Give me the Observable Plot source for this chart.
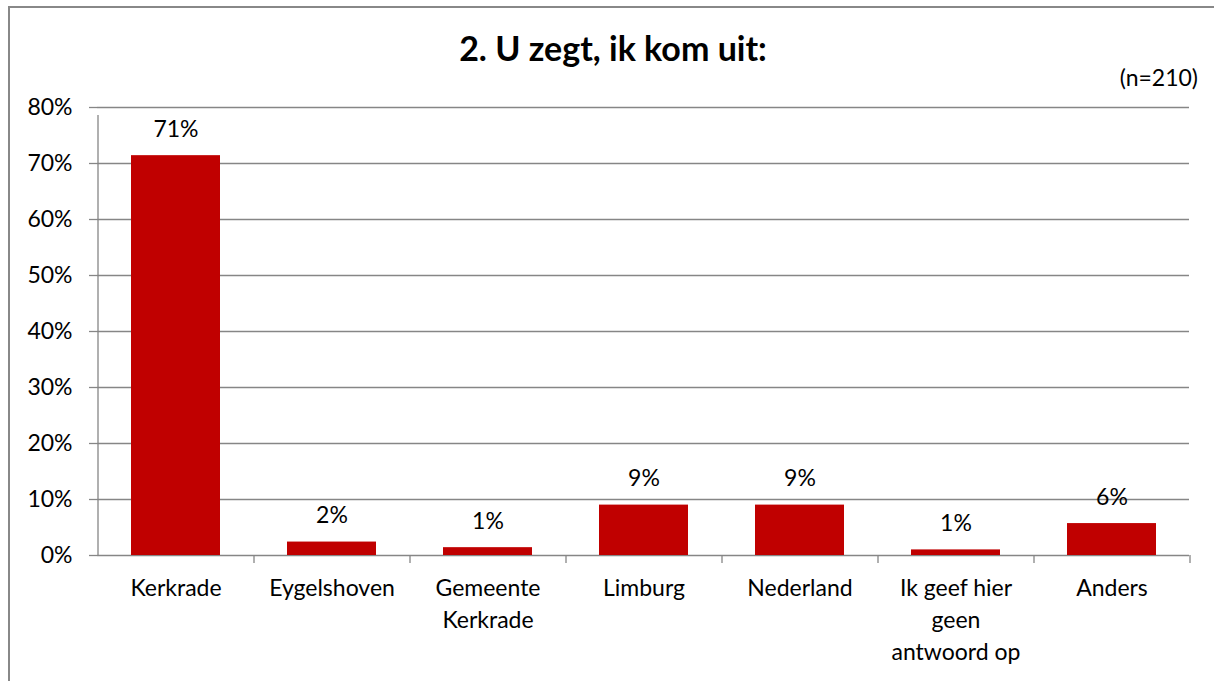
<!DOCTYPE html>
<html>
<head>
<meta charset="utf-8">
<script src="https://cdn.jsdelivr.net/npm/d3@7"></script>
<script src="https://cdn.jsdelivr.net/npm/@observablehq/plot@0.6"></script>
<style>
  html, body { margin: 0; padding: 0; background: #fff; width: 1214px; height: 681px; overflow: hidden; }
  #wrap { position: relative; width: 1214px; height: 681px; overflow: hidden; font-family: Lato, "Open Sans", sans-serif;
          background:
            linear-gradient(#888, #888) 8px 6px / 1206px 2px no-repeat,
            linear-gradient(#888, #888) 8px 6px / 2px 675px no-repeat,
            #fff; }
  #title { position: absolute; left: 13px; width: 1200px; top: 31px; text-align: center; font-weight: 700; font-size: 34px; line-height: 34px; color: #000; white-space: nowrap; }
  #note { position: absolute; right: 16px; top: 66px; font-size: 23px; line-height: 23px; color: #000; white-space: nowrap; }
  #chart { position: absolute; left: 0; top: 0; }
</style>
</head>
<body>
<div id="wrap">
  <div id="chart"></div>
  <div id="title">2. U zegt, ik kom uit:</div>
  <div id="note">(n=210)</div>
</div>
<script>
const categories = ["Kerkrade", "Eygelshoven", "Gemeente Kerkrade", "Limburg", "Nederland", "Ik geef hier geen antwoord op", "Anders"];
const tickLabels = ["Kerkrade", "Eygelshoven", "Gemeente\nKerkrade", "Limburg", "Nederland", "Ik geef hier\ngeen\nantwoord op", "Anders"];
const values = [0.714, 0.024, 0.014, 0.090, 0.090, 0.010, 0.057];
const valueLabels = ["71%", "2%", "1%", "9%", "9%", "1%", "6%"];
const yTicks = [0, 0.1, 0.2, 0.3, 0.4, 0.5, 0.6, 0.7, 0.8];

const data = categories.map((c, i) => ({category: c, value: values[i], label: valueLabels[i]}));

const W = 1214, H = 681, mL = 97, mR = 25, mT = 107, mB = 126;
const step = (W - mL - mR) / categories.length;
const gray = "#868686";

const chart = Plot.plot({
  width: W,
  height: H,
  marginLeft: mL,
  marginRight: mR,
  marginTop: mT,
  marginBottom: mB,
  style: {fontFamily: "Lato, 'Open Sans', sans-serif", background: "transparent"},
  x: {domain: categories, paddingInner: 0.43, paddingOuter: 0.215},
  y: {domain: [0, 0.8]},
  marks: [
    Plot.gridY(yTicks, {stroke: gray, strokeOpacity: 1, strokeWidth: 1.3}),
    Plot.axisY({ticks: yTicks, tickSize: 8, tickPadding: 17, fontSize: 23, stroke: gray, strokeWidth: 1.3, fill: "#000", tickFormat: d => Math.round(d * 100) + "%", label: null}),
    Plot.axisX({tickSize: 0, tickPadding: 18, fontSize: 23, fill: "#000", lineHeight: 1.39, tickFormat: d => tickLabels[categories.indexOf(d)], label: null}),
    Plot.ruleX([categories[0]], {x: d => d, dx: -step / 2, y1: 0, y2: 0.8, insetBottom: -8, stroke: gray, strokeWidth: 1.3}),
    Plot.ruleX(categories, {x: d => d, dx: step / 2, y1: 0, y2: 0, insetBottom: -8, stroke: gray, strokeWidth: 1.3}),
    Plot.barY(data, {x: "category", y: "value", fill: "#C00000"}),
    Plot.text(data, {x: "category", y: "value", text: "label", dy: -19, lineAnchor: "bottom", fontSize: 23, fill: "#000"})
  ]
});
document.getElementById("chart").appendChild(chart);
</script>
</body>
</html>
